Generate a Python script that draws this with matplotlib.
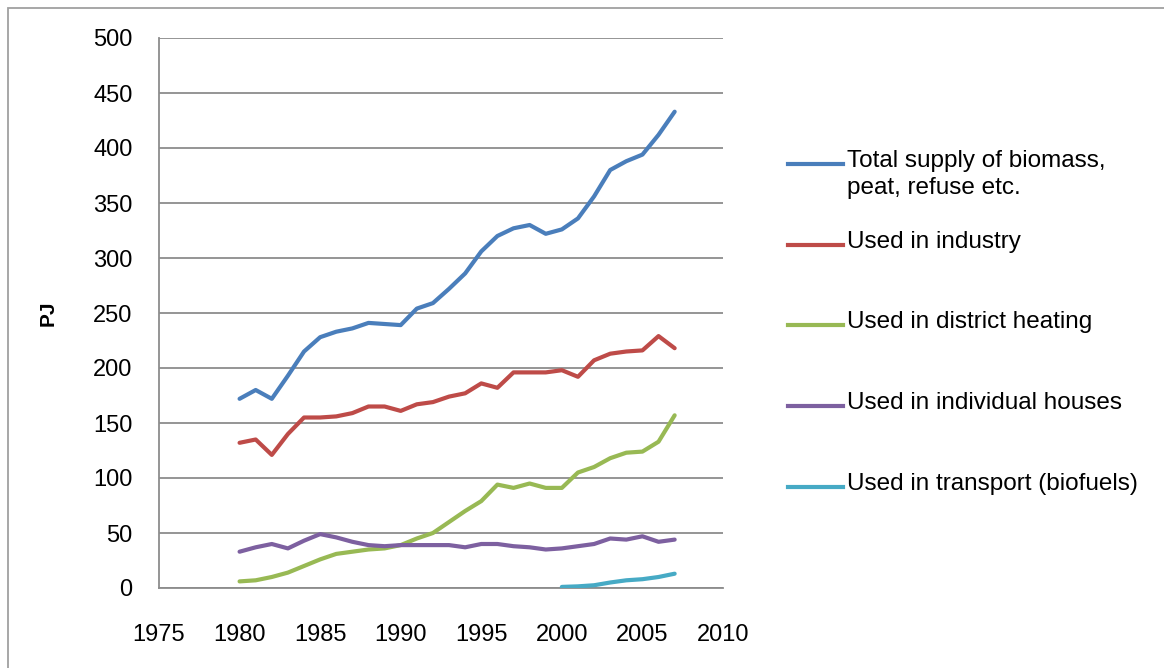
import matplotlib
matplotlib.use('Agg')
import matplotlib.pyplot as plt
from matplotlib.lines import Line2D
from matplotlib.patches import Rectangle

# ---- data (PJ) ----
years = list(range(1980, 2008))
total_supply = [172, 180, 172, 193, 215, 228, 233, 236, 241, 240, 239, 254, 259, 272,
                286, 306, 320, 327, 330, 322, 326, 336, 356, 380, 388, 394, 412, 433]
industry = [132, 135, 121, 140, 155, 155, 156, 159, 165, 165, 161, 167, 169, 174,
            177, 186, 182, 196, 196, 196, 198, 192, 207, 213, 215, 216, 229, 218]
district_heating = [6, 7, 10, 14, 20, 26, 31, 33, 35, 36, 39, 45, 50, 60,
                    70, 79, 94, 91, 95, 91, 91, 105, 110, 118, 123, 124, 133, 157]
houses = [33, 37, 40, 36, 43, 49, 46, 42, 39, 38, 39, 39, 39, 39,
          37, 40, 40, 38, 37, 35, 36, 38, 40, 45, 44, 47, 42, 44]
transport_years = list(range(2000, 2008))
transport = [1, 1.5, 2.5, 5, 7, 8, 10, 13]

labels = ["Total supply of biomass,\npeat, refuse etc.", "Used in industry",
          "Used in district heating", "Used in individual houses",
          "Used in transport (biofuels)"]
x_ticks = list(range(1975, 2011, 5))
y_ticks = list(range(0, 501, 50))

# ---- style ----
COLORS = ['#4a7ebb', '#be4b48', '#98b954', '#7d60a0', '#46aac5']
GRID_C = '#8c8c8c'
FONT = 'Liberation Sans'

plt.rcParams['font.family'] = [FONT, 'DejaVu Sans']

fig = plt.figure(figsize=(11.64, 6.68), dpi=100)
ax = fig.add_axes([159 / 1164, 1 - 588 / 668, 564 / 1164, 550 / 668])

series = [(years, total_supply), (years, industry), (years, district_heating),
          (years, houses), (transport_years, transport)]
for (xs, ys), c in zip(series, COLORS):
    ax.plot(xs, ys, color=c, linewidth=3, solid_joinstyle='round',
            solid_capstyle='round', zorder=3)

ax.set_xlim(1975, 2010)
ax.set_ylim(0, 500)
ax.set_xticks(x_ticks)
ax.set_yticks(y_ticks)
ax.tick_params(length=0, labelsize=17)
ax.tick_params(axis='x', pad=26)
ax.tick_params(axis='y', pad=19)
ax.yaxis.grid(True, color=GRID_C, linewidth=1.3)
ax.set_axisbelow(True)
for s in ['top', 'right']:
    ax.spines[s].set_visible(False)
for s in ['left', 'bottom']:
    ax.spines[s].set_color(GRID_C)
    ax.spines[s].set_linewidth(1.3)
ax.set_ylabel("PJ", fontsize=15, fontweight='bold')
ax.yaxis.set_label_coords((58 - 159) / 564, 0.5)

# ---- legend, drawn by hand to match Excel layout ----
leg_y = [164, 245, 325, 406, 487]
for lab, c, yy in zip(labels, COLORS, leg_y):
    yf = 1 - yy / 668
    fig.add_artist(Line2D([788 / 1164, 843 / 1164], [yf, yf], color=c,
                          linewidth=3, transform=fig.transFigure))
    fig.text(847 / 1164, yf + 14 / 668, lab, fontsize=17.5, va='top', ha='left',
             linespacing=1.3)

# chart-area border (left and top edges visible)
fig.add_artist(Rectangle((8 / 1164, -0.05), 1.2, 1.05 - 8 / 668,
                         transform=fig.transFigure, fill=False,
                         edgecolor='#a0a0a0', linewidth=1.3))

fig.savefig('out.png', dpi=100)
